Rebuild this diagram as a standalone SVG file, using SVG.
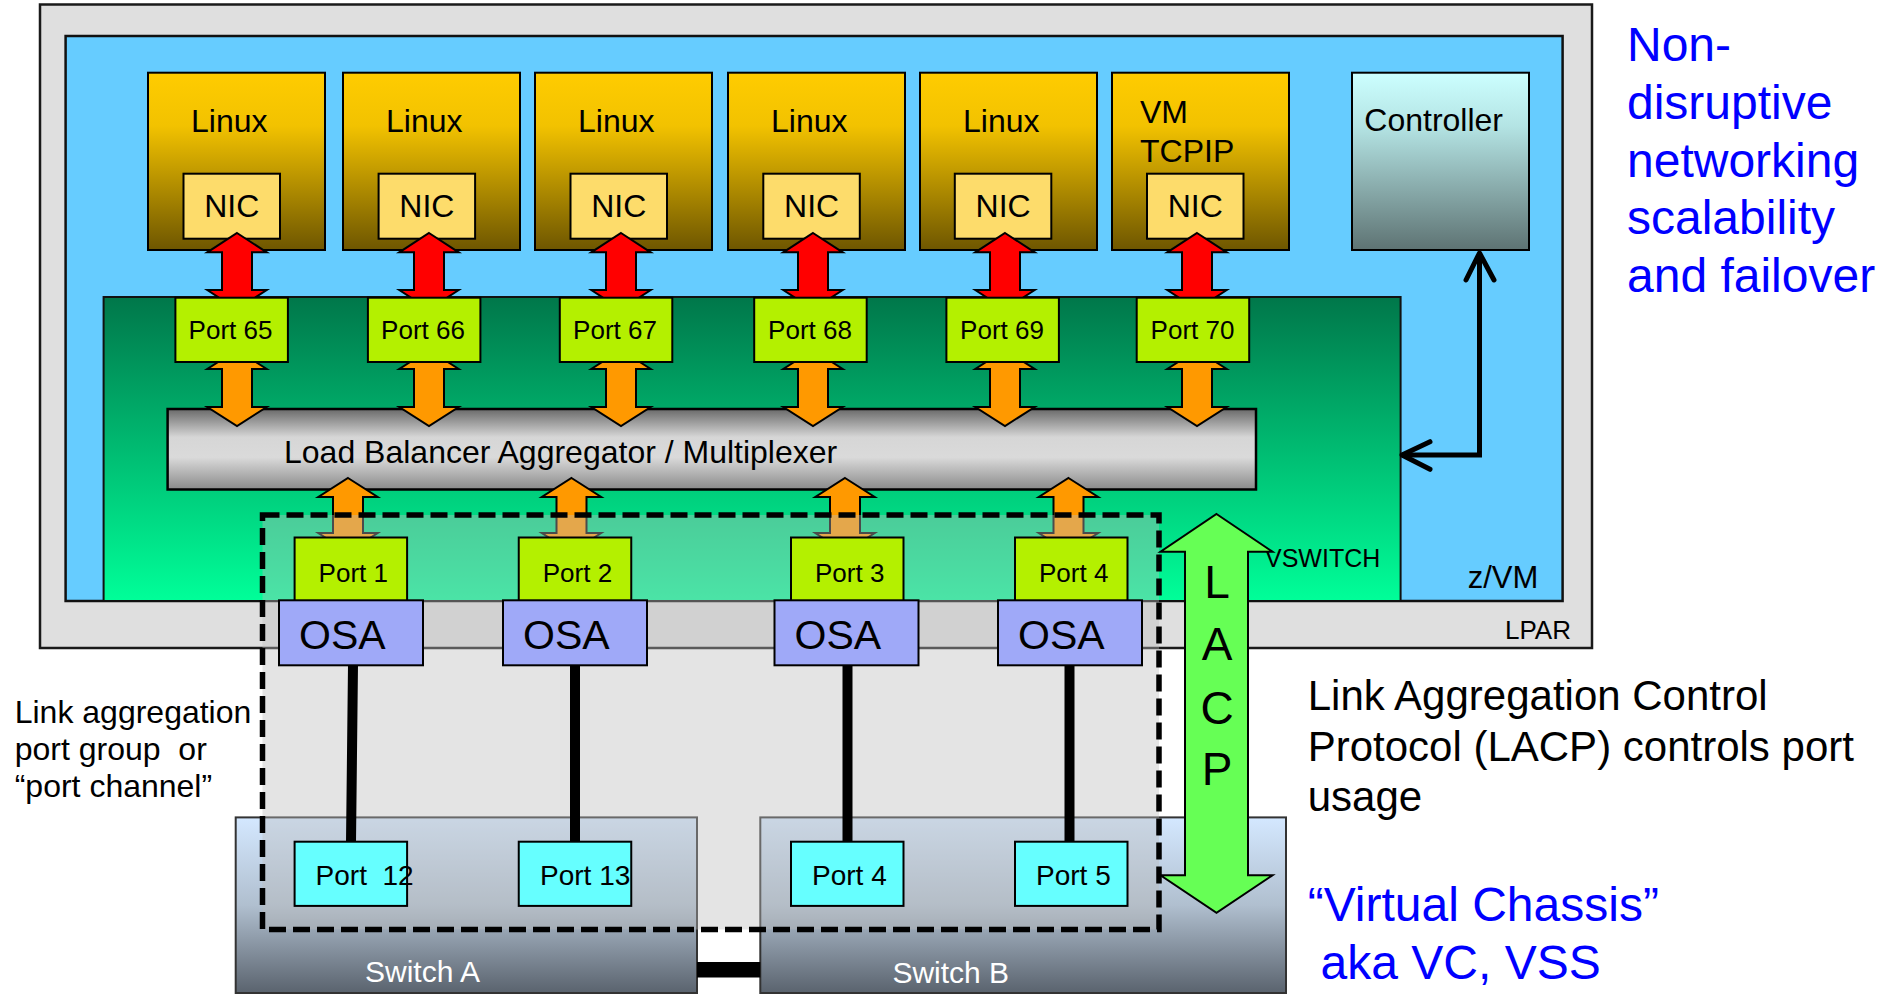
<svg xmlns="http://www.w3.org/2000/svg" width="1883" height="994" viewBox="0 0 1883 994">
<defs>
<linearGradient id="gLinux" x1="0" y1="0" x2="0" y2="1"><stop offset="0" stop-color="#ffcc00"/><stop offset="0.3" stop-color="#f2c200"/><stop offset="1" stop-color="#6e5600"/></linearGradient>
<linearGradient id="gCtrl" x1="0" y1="0" x2="0" y2="1"><stop offset="0" stop-color="#ccffff"/><stop offset="0.3" stop-color="#b4e4e4"/><stop offset="1" stop-color="#5e7373"/></linearGradient>
<linearGradient id="gVsw" x1="0" y1="0" x2="0" y2="1"><stop offset="0" stop-color="#00774a"/><stop offset="1" stop-color="#00ff99"/></linearGradient>
<linearGradient id="gLB" x1="0" y1="0" x2="0" y2="1"><stop offset="0" stop-color="#6a6a6a"/><stop offset="0.35" stop-color="#d6d6d6"/><stop offset="0.6" stop-color="#dadada"/><stop offset="1" stop-color="#8a8a8a"/></linearGradient>
<linearGradient id="gSw" x1="0" y1="0" x2="0" y2="1"><stop offset="0" stop-color="#d4e8ff"/><stop offset="0.5" stop-color="#b0bfcf"/><stop offset="1" stop-color="#5a636e"/></linearGradient>
<path id="redA" d="M0,233 L29.7,252.3 L15,252.3 L15,290 L29.7,290 L0,309.3 L-29.7,290 L-15,290 L-15,252.3 L-29.7,252.3 Z" fill="#ff0000" stroke="#000" stroke-width="2" stroke-linejoin="miter"/>
<path id="orgA" d="M0,350 L29.7,369 L15,369 L15,407 L29.7,407 L0,426 L-29.7,407 L-15,407 L-15,369 L-29.7,369 Z" fill="#ff9900" stroke="#000" stroke-width="2"/>
<path id="upA" d="M0,478 L29.7,497 L15,497 L15,533 L29.7,533 L0,552 L-29.7,533 L-15,533 L-15,497 L-29.7,497 Z" fill="#ff9900" stroke="#000" stroke-width="2"/>
</defs>
<style>
text{font-family:"Liberation Sans",Arial,Helvetica,sans-serif;fill:#000}
.box{stroke:#000;stroke-width:2}
.linux{fill:url(#gLinux)}
.nic{fill:#fddc6b}
.lime{fill:#b4f000}
.osa{fill:#9fa9f8}
.cyan{fill:#66ffff}
.sw{fill:url(#gSw);stroke:#333;stroke-width:2}
.t32{font-size:32px}
.t26{font-size:26px}
.t28{font-size:28px}
.t41{font-size:41px}
.blue{fill:#0000ff;font-size:48px}
.t42{font-size:42px}
.lacp{font-size:46px;text-anchor:middle}
.mid{text-anchor:middle}
</style>
<rect width="1883" height="994" fill="#ffffff"/>

<g id="lpar">
<rect x="40" y="4.5" width="1552" height="643.5" fill="#dfdfdf" stroke="#1a1a1a" stroke-width="2.5"/>
<text x="1505" y="639.3" class="t26">LPAR</text>
</g>
<g id="zvm">
<rect x="65.6" y="36" width="1497" height="565" fill="#66ccff" stroke="#111" stroke-width="2.5"/>
<text x="1467.7" y="588.3" style="font-size:31px">z/VM</text>
</g>
<g id="vswitch">
<rect x="103.6" y="297" width="1297" height="304" fill="url(#gVsw)" stroke="#111" stroke-width="2"/>
<text x="1265" y="566.7" style="font-size:25px">VSWITCH</text>
</g>

<g id="linux1"><rect class="box linux" x="148" y="72.7" width="177" height="177.3"/><text x="191" y="131.7" class="t32">Linux</text><rect class="box nic" x="183.5" y="173.7" width="96.5" height="65"/><text x="231.8" y="216.7" class="t32 mid">NIC</text></g>
<g id="linux2"><rect class="box linux" x="343" y="72.7" width="177" height="177.3"/><text x="386" y="131.7" class="t32">Linux</text><rect class="box nic" x="378.6" y="173.7" width="96.5" height="65"/><text x="426.9" y="216.7" class="t32 mid">NIC</text></g>
<g id="linux3"><rect class="box linux" x="535" y="72.7" width="177" height="177.3"/><text x="578" y="131.7" class="t32">Linux</text><rect class="box nic" x="570.5" y="173.7" width="96.5" height="65"/><text x="618.8" y="216.7" class="t32 mid">NIC</text></g>
<g id="linux4"><rect class="box linux" x="728" y="72.7" width="177" height="177.3"/><text x="771" y="131.7" class="t32">Linux</text><rect class="box nic" x="763.3" y="173.7" width="96.5" height="65"/><text x="811.6" y="216.7" class="t32 mid">NIC</text></g>
<g id="linux5"><rect class="box linux" x="920" y="72.7" width="177" height="177.3"/><text x="963" y="131.7" class="t32">Linux</text><rect class="box nic" x="954.8" y="173.7" width="96.5" height="65"/><text x="1003.1" y="216.7" class="t32 mid">NIC</text></g>
<g id="vmtcpip"><rect class="box linux" x="1112" y="72.7" width="177" height="177.3"/><text x="1140" y="123.3" class="t32">VM</text><text x="1140" y="162.3" class="t32">TCPIP</text><rect class="box nic" x="1147" y="173.7" width="96.5" height="65"/><text x="1195.3" y="216.7" class="t32 mid">NIC</text></g>
<g id="controller"><rect x="1352" y="72.7" width="177" height="177.3" fill="url(#gCtrl)" stroke="#000" stroke-width="2"/><text x="1364.3" y="131" class="t32">Controller</text></g>

<g id="loadbalancer"><rect x="167.6" y="409" width="1088.4" height="80.5" fill="url(#gLB)" stroke="#000" stroke-width="2.5"/><text x="284" y="463.3" class="t32">Load Balancer Aggregator / Multiplexer</text></g>

<g id="switchA"><rect class="sw" x="235.7" y="817.4" width="461.3" height="175.6"/><text x="365" y="982" style="font-size:30px;fill:#fff">Switch A</text></g>
<g id="switchB"><rect class="sw" x="760.3" y="817.4" width="525.7" height="175.6"/><text x="892.4" y="983" style="font-size:30px;fill:#fff">Switch B</text></g>

<g id="connectors">
<use href="#redA" x="237"/><use href="#redA" x="429"/><use href="#redA" x="621"/><use href="#redA" x="813"/><use href="#redA" x="1005"/><use href="#redA" x="1197"/>
<use href="#orgA" x="237"/><use href="#orgA" x="429"/><use href="#orgA" x="621"/><use href="#orgA" x="813"/><use href="#orgA" x="1005"/><use href="#orgA" x="1197"/>
<use href="#upA" x="348"/><use href="#upA" x="571.5"/><use href="#upA" x="845"/><use href="#upA" x="1068.5"/>
<path d="M1479.5,253 L1479.5,455 L1402,455" fill="none" stroke="#000" stroke-width="5" stroke-linejoin="miter"/>
<path d="M1466,280 L1479.5,253 L1494,280 M1430,441.7 L1402,455 L1430,469.3" fill="none" stroke="#000" stroke-width="5" stroke-linecap="round" stroke-linejoin="round"/>
<rect x="697" y="962" width="63.3" height="15.5" fill="#000"/>
</g>

<g id="portgroup">
<rect x="262.5" y="515" width="896.5" height="414.5" fill="#bcbcbc" fill-opacity="0.4" stroke="#000" stroke-width="5.5" stroke-dasharray="17 7"/>
</g>

<g id="port65"><rect class="box lime" x="175.4" y="297.7" width="112.5" height="64.3"/><text x="230.5" y="339.3" class="t26 mid">Port 65</text></g>
<g id="port66"><rect class="box lime" x="367.9" y="297.7" width="112.5" height="64.3"/><text x="423" y="339.3" class="t26 mid">Port 66</text></g>
<g id="port67"><rect class="box lime" x="559.8" y="297.7" width="112.5" height="64.3"/><text x="615" y="339.3" class="t26 mid">Port 67</text></g>
<g id="port68"><rect class="box lime" x="754.2" y="297.7" width="112.5" height="64.3"/><text x="810" y="339.3" class="t26 mid">Port 68</text></g>
<g id="port69"><rect class="box lime" x="946.4" y="297.7" width="112.5" height="64.3"/><text x="1002" y="339.3" class="t26 mid">Port 69</text></g>
<g id="port70"><rect class="box lime" x="1136.7" y="297.7" width="112.5" height="64.3"/><text x="1192.5" y="339.3" class="t26 mid">Port 70</text></g>

<g id="links">
<path d="M353,665 L351,842 M575,665 L575,842 M847.5,665 L847.5,842 M1069.5,665 L1069.5,842" stroke="#000" stroke-width="10" fill="none"/>
</g>

<g id="port1"><rect class="box lime" x="294.6" y="537.5" width="112.5" height="64.2"/><text x="318.6" y="582" class="t26">Port 1</text></g>
<g id="port2"><rect class="box lime" x="518.75" y="537.5" width="112.5" height="64.2"/><text x="542.75" y="582" class="t26">Port 2</text></g>
<g id="port3"><rect class="box lime" x="791" y="537.5" width="112.5" height="64.2"/><text x="815" y="582" class="t26">Port 3</text></g>
<g id="port4"><rect class="box lime" x="1015" y="537.5" width="112.5" height="64.2"/><text x="1039" y="582" class="t26">Port 4</text></g>

<g id="osa1"><rect class="box osa" x="279" y="600.3" width="144" height="65"/><text x="299" y="648.6" class="t41">OSA</text></g>
<g id="osa2"><rect class="box osa" x="503" y="600.3" width="144" height="65"/><text x="523" y="648.6" class="t41">OSA</text></g>
<g id="osa3"><rect class="box osa" x="774.5" y="600.3" width="144" height="65"/><text x="794.5" y="648.6" class="t41">OSA</text></g>
<g id="osa4"><rect class="box osa" x="998" y="600.3" width="144" height="65"/><text x="1018" y="648.6" class="t41">OSA</text></g>

<g id="port12"><rect class="box cyan" x="294.6" y="841.7" width="112.5" height="64.2"/><text x="315.6" y="884.7" class="t28" xml:space="preserve">Port  12</text></g>
<g id="port13"><rect class="box cyan" x="518.75" y="841.7" width="112.5" height="64.2"/><text x="540" y="884.7" class="t28">Port 13</text></g>
<g id="portB4"><rect class="box cyan" x="791" y="841.7" width="112.5" height="64.2"/><text x="812" y="884.7" class="t28">Port 4</text></g>
<g id="portB5"><rect class="box cyan" x="1015" y="841.7" width="112.5" height="64.2"/><text x="1036" y="884.7" class="t28">Port 5</text></g>

<g id="lacp">
<path d="M1216.5,514 L1272.5,551.7 L1248,551.7 L1248,875.3 L1272.5,875.3 L1216.5,912.8 L1160.5,875.3 L1185,875.3 L1185,551.7 L1160.5,551.7 Z" fill="#66ff55" stroke="#000" stroke-width="2"/>
<text x="1217" y="597.6" class="lacp">L</text>
<text x="1217" y="660" class="lacp">A</text>
<text x="1217" y="724" class="lacp">C</text>
<text x="1217" y="785" class="lacp">P</text>
</g>

<g id="notes">
<text class="blue" x="1627" y="61">Non-</text>
<text class="blue" x="1627" y="119">disruptive</text>
<text class="blue" x="1627" y="176.5">networking</text>
<text class="blue" x="1627" y="234">scalability</text>
<text class="blue" x="1627" y="291.5">and failover</text>
<text class="t32" x="14.7" y="722.6">Link aggregation</text>
<text class="t32" x="14.7" y="760" xml:space="preserve">port group  or</text>
<text class="t32" x="14.7" y="797">“port channel”</text>
<text class="t42" x="1307.7" y="709.5">Link Aggregation Control</text>
<text class="t42" x="1307.7" y="760.5">Protocol (LACP) controls port</text>
<text class="t42" x="1307.7" y="810.7">usage</text>
<text class="blue" x="1307.7" y="920.7">“Virtual Chassis”</text>
<text class="blue" x="1320.6" y="979">aka VC, VSS</text>
</g>
</svg>
